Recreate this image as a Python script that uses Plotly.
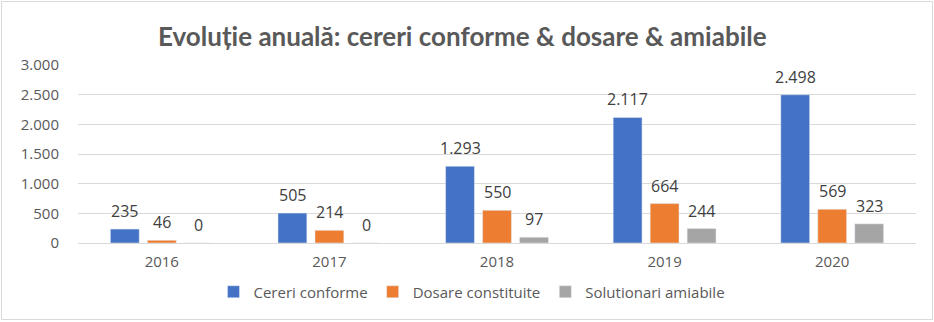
import plotly.graph_objects as go

years = ["2016", "2017", "2018", "2019", "2020"]
cereri = [235, 505, 1293, 2117, 2498]
dosare = [46, 214, 550, 664, 569]
amiabile = [0, 0, 97, 244, 323]
series_names = ["Cereri conforme", "Dosare constituite", "Solutionari amiabile"]
colors = ["#4472C4", "#ED7D31", "#A5A5A5"]
y_ticks = [0, 500, 1000, 1500, 2000, 2500, 3000]

W, H = 934, 322
ml, mr, mt, mb = 78, 18, 65, 79
pw, ph = W - ml - mr, H - mt - mb
bargap = 0.338

def px_x(x):
    return (x - ml) / pw

def px_y(y):
    return (H - mb - y) / ph

fig = go.Figure()
all_series = [cereri, dosare, amiabile]
for name, vals, col in zip(series_names, all_series, colors):
    fig.add_trace(go.Bar(x=years, y=vals, name=name, marker_color=col))

# data labels placed over each bar of the group (x given as category index)
slot = pw / len(years) * (1 - bargap) / len(all_series)
for si, vals in enumerate(all_series):
    shift = (si - (len(all_series) - 1) / 2) * slot
    for ci, v in enumerate(vals):
        fig.add_annotation(x=ci, y=v, text=f"{v:,}".replace(",", "."), showarrow=False,
                           xshift=shift, yshift=5, yanchor="bottom",
                           font=dict(family="Open Sans, DejaVu Sans, sans-serif", size=16, color="#404040"))

fig.update_layout(
    width=W, height=H, separators=",.",
    margin=dict(l=ml, r=mr, t=mt, b=mb),
    paper_bgcolor="white", plot_bgcolor="white",
    barmode="group", bargap=bargap, bargroupgap=0.22,
    title=dict(text="<b>Evoluție anuală: cereri conforme & dosare & amiabile</b>",
               x=0.495, xanchor="center", y=0.885, yanchor="middle",
               font=dict(family="Lato, Open Sans, sans-serif", size=26, color="#595959")),
    font=dict(family="Open Sans, DejaVu Sans, sans-serif", color="#595959"),
    legend=dict(orientation="h", x=px_x(472), xanchor="center", y=px_y(292), yanchor="middle",
                font=dict(size=15, color="#595959"), itemwidth=30, traceorder="normal"),
    showlegend=True,
)
fig.update_xaxes(type="category", range=[-0.5, len(years) - 0.5], showline=False, ticks="",
                 tickfont=dict(size=15, color="#595959"), ticklabelstandoff=8)
fig.update_yaxes(range=[0, 3000], tickvals=y_ticks, tickformat=",", showgrid=True,
                 gridcolor="#D9D9D9", gridwidth=1, zeroline=True, zerolinecolor="#D9D9D9",
                 zerolinewidth=1, tickfont=dict(size=15, color="#595959"), ticklabelstandoff=18)

fig.add_shape(type="rect", xref="paper", yref="paper",
              x0=px_x(1.5), x1=px_x(932.5), y0=px_y(319.5), y1=px_y(1.5),
              line=dict(color="#D9D9D9", width=1), fillcolor="rgba(0,0,0,0)", layer="below")

fig.write_html("out.html")
